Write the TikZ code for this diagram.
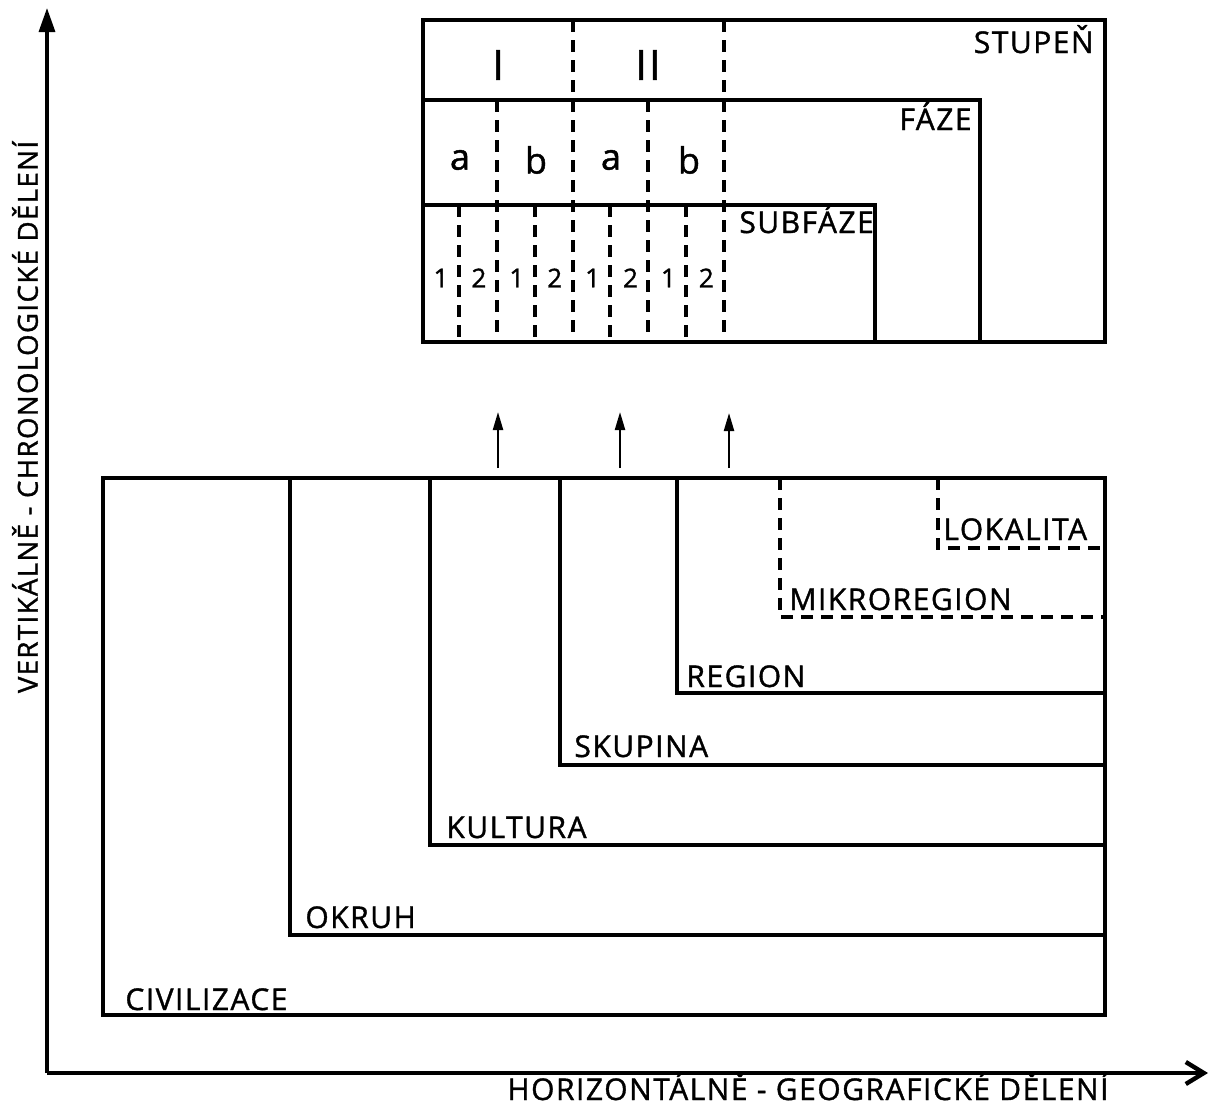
\documentclass[tikz,border=0pt]{standalone}
\usepackage{fontspec}
\setmainfont[LetterSpace=5,FakeBold=1.2]{Open Sans}
\usetikzlibrary{calc}
\usetikzlibrary{arrows.meta}

\begin{document}
\begin{tikzpicture}[x=0.5pt,y=-0.5pt,
    box/.style={line width=2.3pt},
    divline/.style={line width=1.6pt, dash pattern=on 6pt off 4pt},
    lbl/.style={inner sep=0pt, font=\fontsize{15}{17}\selectfont},
    roman/.style={inner sep=0pt, font=\fontsize{21}{24}\selectfont},
    phase/.style={inner sep=0pt, font=\fontsize{18}{20}\selectfont},
    sub/.style={inner sep=0pt, font=\fontsize{13}{15}\selectfont}]
  \useasboundingbox (0,0) rectangle (1213,1108);
  % axes
  \coordinate (origin) at (47,1073);
  \coordinate (ytop) at (47,8);
  \coordinate (xend) at (1208,1073);
  \draw[line width=1.6pt, -{Triangle[length=12pt,width=8pt]}] (origin) -- (ytop);
  \draw[line width=1.6pt, -{Straight Barb[length=9pt,width=11pt,line width=2.2pt]}] (origin) -- (xend);
  \node[lbl, font=\fontsize{13.8}{16}\selectfont, rotate=90] (vlabel) at (25,417) {VERTIKÁLNĚ - CHRONOLOGICKÉ DĚLENÍ};
  \node[lbl, anchor=base] (hlabel) at (808,1100) {HORIZONTÁLNĚ - GEOGRAFICKÉ DĚLENÍ};
  % chronological division
  \draw[box] (423,20) rectangle (1105,342);
  \draw[box] (423,100) -- (980,100) -- (980,342);
  \draw[box] (423,205) -- (875,205) -- (875,342);
  \foreach \x in {573,724} {
    \draw[divline] (\x,20) -- (\x,342);
  }
  \foreach \x in {497,648} {
    \draw[divline] (\x,100) -- (\x,342);
  }
  \foreach \x in {459,535,610,686} {
    \draw[divline] (\x,205) -- (\x,342);
  }
  \node[roman] (st1) at (498,65) {I};
  \node[roman] (st2) at (648,65) {II};
  \foreach \x/\t [count=\i] in {460/a,536/b,611/a,689/b} {
    \node[phase] (ph\i) at (\x,160) {\t};
  }
  \foreach \i in {0,1,...,7} {
    \pgfmathtruncatemacro{\d}{mod(\i,2)+1}
    \node[sub] (sf\i) at (441+\i*37.9,278) {\d};
  }
  \node[lbl, anchor=base east] (stupen) at (1094,53) {STUPEŇ};
  \node[lbl, anchor=base east] (faze) at (972,130) {FÁZE};
  \node[lbl, anchor=base west] (subfaze) at (739,233) {SUBFÁZE};
  % arrows between the two divisions
  \foreach \x/\t [count=\i] in {498/412,620/412,729/413} {
    \coordinate (a\i) at (\x,468);
    \coordinate (b\i) at (\x,\t);
    \draw[line width=1.1pt, -{Triangle[length=9pt,width=5pt]}] (a\i) -- (b\i);
  }
  % geographical division
  \draw[box] (103,478) rectangle (1105,1015);
  \foreach \x/\y in {290/935,430/845,560/765,677/693} {
    \draw[box] (\x,478) -- (\x,\y) -- (1105,\y);
  }
  \draw[divline] (780,478) -- (780,617) -- (1105,617);
  \draw[divline] (938,478) -- (938,548) -- (1105,548);
  \node[lbl, anchor=base west] (civ) at (125,1010) {CIVILIZACE};
  \node[lbl, anchor=base west] (okruh) at (305,928) {OKRUH};
  \node[lbl, anchor=base west] (kult) at (446,838) {KULTURA};
  \node[lbl, anchor=base west] (skup) at (574,757) {SKUPINA};
  \node[lbl, anchor=base west] (reg) at (686,687) {REGION};
  \node[lbl, anchor=base west] (mikro) at (789,610) {MIKROREGION};
  \node[lbl, anchor=base west] (lok) at (943,540) {LOKALITA};
\end{tikzpicture}
\end{document}
